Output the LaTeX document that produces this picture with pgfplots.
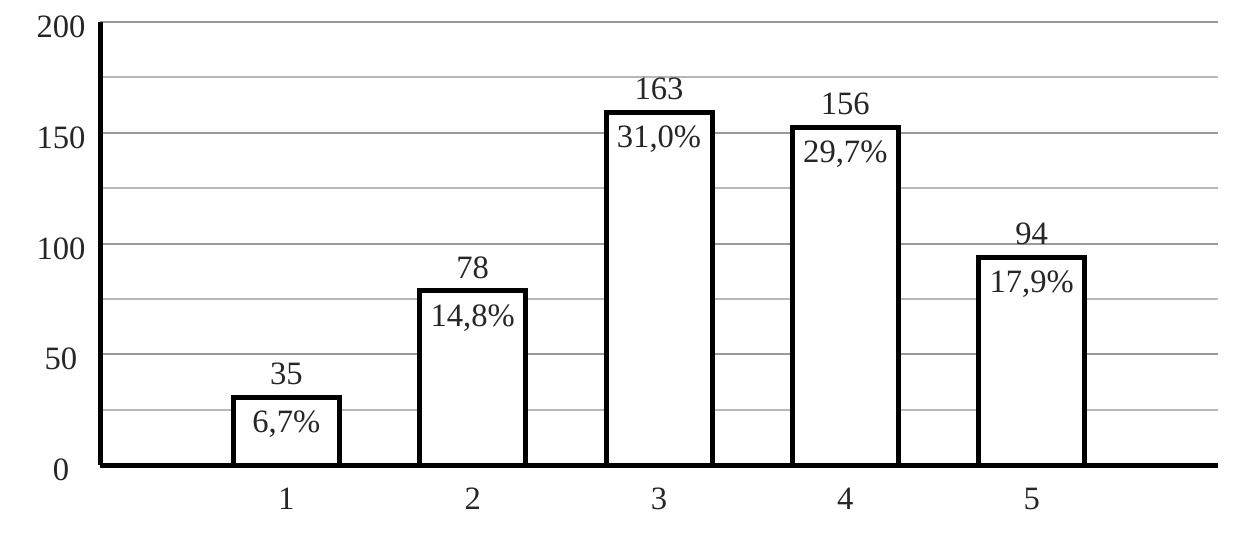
\documentclass[border=0pt]{standalone}
\usepackage{fontspec}
\setmainfont{Liberation Serif}
\usepackage{pgfplots}
\usepackage{pgfplotstable}
\pgfplotsset{compat=1.18}
\pgfplotstableread{
x h count pct
1 30.5 35 6.7
2 78.6 78 14.8
3 159.2 163 31.0
4 152.4 156 29.7
5 93.8 94 17.9
}\datatable
\begin{document}
\begin{tikzpicture}[font=\fontsize{16.3}{19.5}\selectfont]
\path (-50pt,-33.5pt) rectangle (570pt,232.5pt);
\begin{axis}[
  at={(0,0)}, anchor=south west,
  scale only axis, width=559pt, height=221.5pt,
  /pgf/number format/assume math mode=true,
  ybar, bar width=53pt,
  xmin=0, xmax=6, ymin=0, ymax=200,
  xtick={1,2,3,4,5},
  ytick={0,50,100,150,200},
  minor ytick={25,75,125,175},
  ymajorgrids, yminorgrids,
  major grid style={draw=black!40, line width=1pt},
  minor grid style={draw=black!28, line width=1pt},
  axis x line=bottom, axis y line=left,
  axis line style={line width=2.5pt, -, black},
  major tick length=0pt, minor tick length=0pt,
  tick style={draw=none},
  every tick label/.append style={text=black!85},
  yticklabel style={anchor=center, xshift=-19.5pt, yshift=-2.5pt},
  xticklabel style={anchor=center, yshift=-16.75pt},
  clip=false,
]
\addplot[bar shift=0pt, draw=black, fill=white, line width=2.5pt,
  point meta=explicit,
  nodes near coords={\pgfmathprintnumber[fixed,precision=0]{\pgfplotspointmeta}},
  every node near coord/.append style={anchor=base, yshift=6.4pt, text=black!85, inner sep=0pt},
] table[x=x, y=h, meta=count] {\datatable};
\addplot[bar shift=0pt, draw=none, fill=none,
  point meta=explicit,
  nodes near coords={\pgfmathprintnumber[fixed,fixed zerofill,precision=1,use comma]{\pgfplotspointmeta}\%},
  every node near coord/.append style={anchor=base, yshift=-17.7pt, text=black!85, inner sep=0pt},
] table[x=x, y=h, meta=pct] {\datatable};
\end{axis}
\end{tikzpicture}
\end{document}
